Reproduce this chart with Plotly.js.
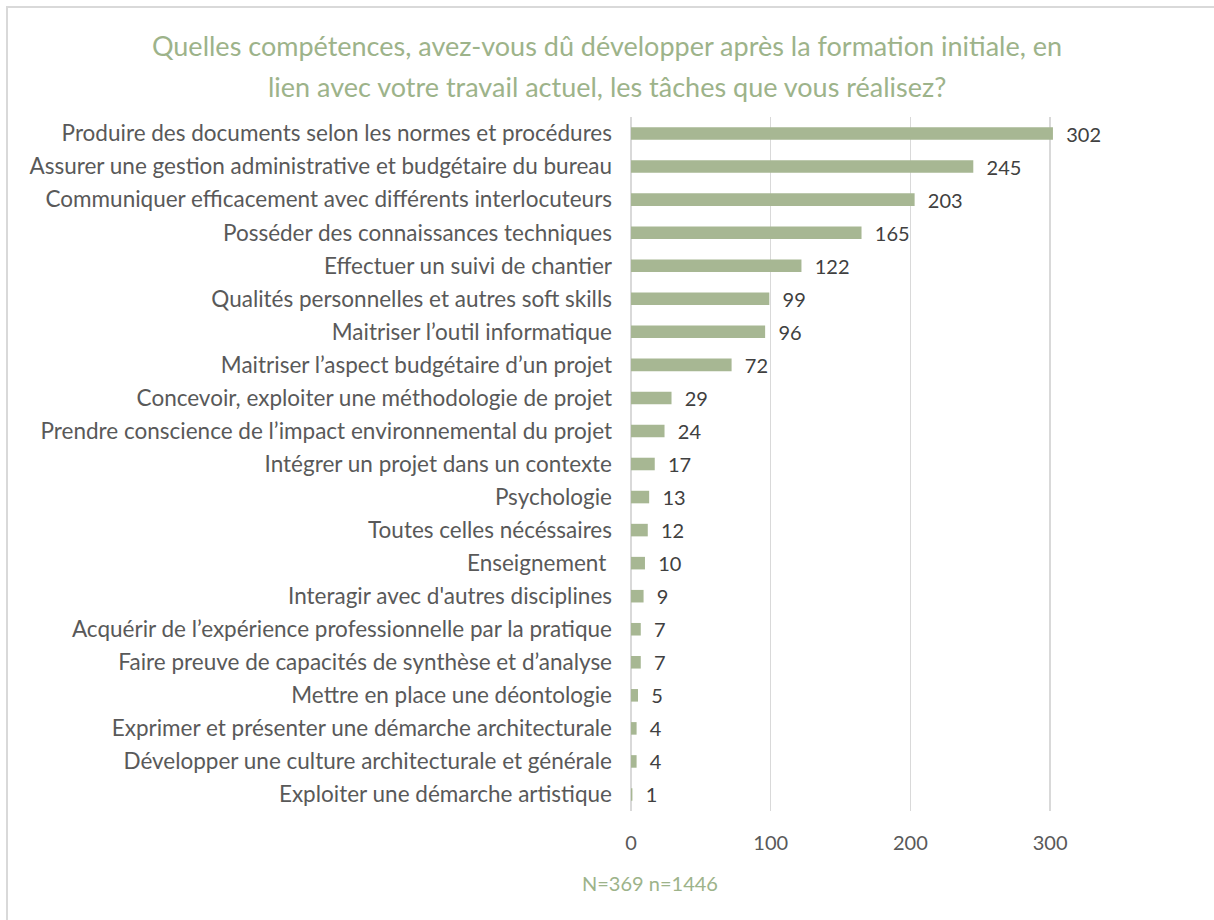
<!DOCTYPE html>
<html>
<head>
<meta charset="utf-8">
<script src="https://cdn.plot.ly/plotly-3.0.1.min.js"></script>
<style>
html,body{margin:0;padding:0;background:#fff;}
#frame{position:absolute;left:6px;top:6px;width:1208px;height:914px;border-top:2px solid #d9d9d9;border-left:2px solid #d9d9d9;}
#chart{position:absolute;left:0;top:0;width:1214px;height:920px;}
</style>
</head>
<body>
<div id="frame"></div>
<div id="chart"></div>
<script>
const categories = [
  "Produire des documents selon les normes et procédures",
  "Assurer une gestion administrative et budgétaire du bureau",
  "Communiquer efficacement avec différents interlocuteurs",
  "Posséder des connaissances techniques",
  "Effectuer un suivi de chantier",
  "Qualités personnelles et autres soft skills",
  "Maitriser l’outil informatique",
  "Maitriser l’aspect budgétaire d’un projet",
  "Concevoir, exploiter une méthodologie de projet",
  "Prendre conscience de l’impact environnemental du projet",
  "Intégrer un projet dans un contexte",
  "Psychologie",
  "Toutes celles nécéssaires",
  "Enseignement ",
  "Interagir avec d'autres disciplines",
  "Acquérir de l’expérience professionnelle par la pratique",
  "Faire preuve de capacités de synthèse et d’analyse",
  "Mettre en place une déontologie",
  "Exprimer et présenter une démarche architecturale",
  "Développer une culture architecturale et générale",
  "Exploiter une démarche artistique"
];
const values = [302, 245, 203, 165, 122, 99, 96, 72, 29, 24, 17, 13, 12, 10, 9, 7, 7, 5, 4, 4, 1];
const titleLine1 = "Quelles compétences, avez-vous dû développer après la formation initiale, en";
const titleLine2 = "lien avec votre travail actuel, les tâches que vous réalisez?";
const subtitle = "N=369 n=1446";
const xTicks = [0, 100, 200, 300];

const FONT = "Lato, 'Open Sans', sans-serif";
const green = "#9db38a";

const trace = {
  type: "bar",
  orientation: "h",
  y: categories,
  x: values,
  marker: {color: "#a7b793", line: {width: 0}},
  width: 0.38,
  text: values.map(v => "\u00a0\u00a0" + v),
  textposition: "outside",
  constraintext: "none",
  cliponaxis: false,
  textfont: {family: FONT, size: 20, color: "#404040"},
  hoverinfo: "none"
};

const layout = {
  width: 1214, height: 920,
  margin: {l: 631, r: 94, t: 117, b: 109},
  paper_bgcolor: "rgba(0,0,0,0)",
  plot_bgcolor: "rgba(0,0,0,0)",
  showlegend: false,
  title: {
    text: titleLine1,
    font: {family: FONT, size: 27, color: green},
    x: 607/1214, xref: "container", xanchor: "center",
    y: 1 - 47/920, yref: "container", yanchor: "middle"
  },
  annotations: [
    {text: titleLine2, xref: "paper", yref: "paper", x: (607-631)/489, y: 1 + (117-86)/694,
     xanchor: "center", yanchor: "middle", showarrow: false,
     font: {family: FONT, size: 27, color: green}},
    {text: subtitle, xref: "paper", yref: "paper", x: (650-631)/489, y: -(883-811)/694,
     xanchor: "center", yanchor: "middle", showarrow: false,
     font: {family: FONT, size: 20, color: green}}
  ],
  xaxis: {
    range: [0, 350],
    tickvals: xTicks,
    ticktext: xTicks.map(String),
    showgrid: true, gridcolor: "#d9d9d9", gridwidth: 1.5,
    zeroline: true, zerolinecolor: "#d9d9d9", zerolinewidth: 1.5,
    showline: false, ticks: "",
    ticklabelstandoff: 18,
    tickfont: {family: FONT, size: 20, color: "#595959"},
    fixedrange: true
  },
  yaxis: {
    type: "category",
    autorange: "reversed",
    showgrid: false, zeroline: false, showline: false, ticks: "",
    ticklabelstandoff: 18,
    tickfont: {family: FONT, size: 22.5, color: "#595959"},
    automargin: false,
    fixedrange: true
  },
  bargap: 0.62
};

Plotly.newPlot("chart", [trace], layout, {displayModeBar: false, staticPlot: true});
</script>
</body>
</html>
